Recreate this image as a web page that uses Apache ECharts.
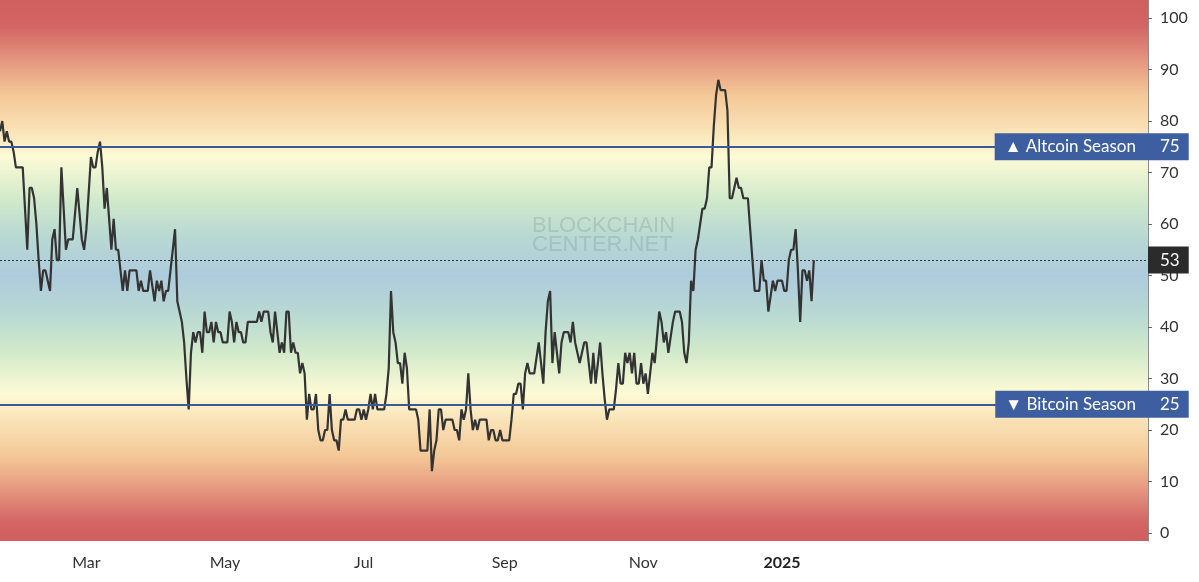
<!DOCTYPE html>
<html>
<head>
<meta charset="utf-8">
<script src="https://cdn.jsdelivr.net/npm/echarts@6/dist/echarts.min.js"></script>
<style>
html,body{margin:0;padding:0;background:#ffffff;}
#chart{width:1199px;height:582px;}
</style>
</head>
<body>
<div id="chart"></div>
<script>
// ---- data ----
const startDate = '2024-01-23';   // first daily reading
const axisEndDate = '2025-06-11'; // right edge of the time scale
const indexValues = [
  78,80,76,78,76,76,74,71,71,71, 71,63,55,67,67,65,60,53,47,51,
  51,49,47,57,59,53,53,71,63,55, 57,57,57,62,67,62,57,55,59,66,
  73,71,71,74,76,71,63,67,61,55, 61,55,55,51,47,51,47,51,51,51,
  51,47,49,47,47,47,51,48,45,49, 47,49,45,47,47,51,55,59,45,43,
  41,37,30,24,35,39,37,39,39,35, 43,39,39,41,37,41,39,39,37,37,
  37,43,41,37,41,39,39,37,37,41, 41,41,41,41,43,41,43,43,43,39,
  37,43,39,35,37,35,43,43,35,37, 35,35,31,33,31,22,27,24,24,27,
  20,18,18,20,20,27,20,18,18,16, 22,22,24,22,22,22,22,24,24,22,
  24,22,24,27,24,27,24,24,24,24, 27,32,47,39,37,33,33,29,35,32,
  24,24,24,24,22,16,16,16,16,24, 12,16,18,24,24,20,22,22,22,22,
  20,20,18,24,22,24,31,24,20,22, 20,22,22,22,22,18,20,20,18,18,
  20,18,18,18,18,22,27,27,29,29, 24,31,33,31,31,31,34,37,33,29,
  39,45,47,33,39,35,31,37,39,39, 39,37,41,37,35,33,35,37,37,33,
  29,35,29,33,37,31,26,22,24,24, 24,28,33,29,29,35,33,35,31,35,
  29,29,33,29,31,27,31,35,33,38, 43,41,37,39,35,38,41,43,43,43,
  41,35,33,37,49,47,55,57,60,63, 63,65,71,71,79,85,88,86,86,86,
  82,65,65,67,69,67,67,65,65,65, 59,53,47,47,47,53,49,49,43,46,
  49,47,49,49,49,47,47,53,55,55, 59,51,41,51,51,49,51,45,53
];
const yTickValues = [0,10,20,30,40,50,60,70,80,90,100];
const altcoinSeasonLevel = 75;
const bitcoinSeasonLevel = 25;
const altcoinSeasonText = '▲ Altcoin Season';
const bitcoinSeasonText = '▼ Bitcoin Season';
const monthNames = {'03':'Mar','05':'May','07':'Jul','09':'Sep','11':'Nov'};
const watermarkText = 'BLOCKCHAIN\nCENTER.NET';

// ---- build daily categories ----
function dayList(from, to){
  const out = [];
  const d = new Date(from + 'T00:00:00Z');
  const end = new Date(to + 'T00:00:00Z');
  while (d <= end){
    out.push(d.toISOString().slice(0,10));
    d.setUTCDate(d.getUTCDate() + 1);
  }
  return out;
}
const dates = dayList(startDate, axisEndDate);
const lastDataDate = dates[indexValues.length - 1];
const currentValue = indexValues[indexValues.length - 1];

const FONT = 'Lato';
const seasonBlue = '#3d5fa2';
const chart = echarts.init(document.getElementById('chart'), null, {renderer:'canvas'});

const gradient = new echarts.graphic.LinearGradient(0,0,0,1,[
  {offset:0.000, color:'#d15f60'},
  {offset:0.050, color:'#d36564'},
  {offset:0.125, color:'#e8a185'},
  {offset:0.176, color:'#f4c897'},
  {offset:0.240, color:'#f9e2b6'},
  {offset:0.290, color:'#fdfad6'},
  {offset:0.366, color:'#d2eacb'},
  {offset:0.435, color:'#b9d9d3'},
  {offset:0.509, color:'#aecbdc'},
  {offset:0.583, color:'#b9d9d3'},
  {offset:0.652, color:'#d2eacb'},
  {offset:0.728, color:'#fdfad6'},
  {offset:0.778, color:'#f9e2b6'},
  {offset:0.842, color:'#f4c897'},
  {offset:0.893, color:'#e8a185'},
  {offset:0.965, color:'#d36564'},
  {offset:1.000, color:'#d15f60'}
]);

function isLabelDay(value){
  if (value > lastDataDate) return false;
  const m = value.slice(5,7), d = value.slice(8,10);
  return d === '01' && (monthNames[m] !== undefined || m === '01');
}

const option = {
  animation:false,
  backgroundColor:'#ffffff',
  textStyle:{fontFamily:FONT},
  title:{
    text: watermarkText,
    left: 527, top: 211,
    textStyle:{fontFamily:'Liberation Sans', fontSize:22, fontWeight:'normal', lineHeight:19, color:'rgba(110,135,125,0.26)'}
  },
  grid:{left:0, right:51, top:0, bottom:41, show:true, backgroundColor:gradient, borderWidth:0, containLabel:false},
  xAxis:{
    type:'category',
    data: dates,
    boundaryGap:false,
    axisLine:{show:false},
    axisTick:{show:false},
    splitLine:{show:false},
    axisLabel:{
      interval:(i, v) => isLabelDay(v),
      hideOverlap:false,
      margin:14,
      fontSize:16,
      color:'#333',
      fontFamily:FONT,
      formatter:(v) => {
        const m = v.slice(5,7);
        if (m === '01') return '{y|' + v.slice(0,4) + '}';
        return monthNames[m];
      },
      rich:{y:{fontSize:16, fontWeight:'bold', color:'#222', fontFamily:FONT}}
    }
  },
  yAxis:{
    type:'value',
    position:'right',
    min:-1.55,
    max:103.5,
    axisLine:{show:true, lineStyle:{color:'#8c8c8c', width:1}},
    splitLine:{show:false},
    axisTick:{show:true, length:4, inside:false, lineStyle:{color:'#666'},
      customValues: yTickValues.concat([altcoinSeasonLevel, bitcoinSeasonLevel])},
    axisLabel:{
      customValues: yTickValues.concat([altcoinSeasonLevel, bitcoinSeasonLevel, currentValue]),
      margin:0,
      align:'left',
      fontFamily:FONT,
      formatter:(v) => {
        if (v === currentValue && yTickValues.indexOf(v) < 0) return '{cur|' + v + '}';
        if (v === altcoinSeasonLevel || v === bitcoinSeasonLevel) return '{sea|' + v + '}';
        return '{n|' + v + '}';
      },
      rich:{
        n:{fontSize:16, color:'#333', padding:[0,0,0,12], fontFamily:FONT},
        sea:{fontSize:17, color:'#fff', backgroundColor:seasonBlue, padding:[5,9,5,12], fontFamily:FONT},
        cur:{fontSize:17, color:'#fff', backgroundColor:'#2b2b2b', padding:[5,9,5,12], fontFamily:FONT}
      }
    }
  },
  series:[{
    type:'line',
    data:indexValues,
    showSymbol:false,
    symbol:'none',
    lineStyle:{color:'#333333', width:2.2},
    z:3,
    markLine:{
      silent:true,
      symbol:'none',
      animation:false,
      data:[
        {yAxis:altcoinSeasonLevel, lineStyle:{color:'#3b5a96', width:2, type:'solid'},
          label:{show:true, position:'insideEnd', distance:0, formatter:altcoinSeasonText,
            color:'#fff', backgroundColor:seasonBlue, padding:[5,12,5,10], fontSize:17, fontFamily:FONT}},
        {yAxis:bitcoinSeasonLevel, lineStyle:{color:'#3b5a96', width:2, type:'solid'},
          label:{show:true, position:'insideEnd', distance:0, formatter:bitcoinSeasonText,
            color:'#fff', backgroundColor:seasonBlue, padding:[5,12,5,10], fontSize:17, fontFamily:FONT}},
        {yAxis:currentValue, lineStyle:{color:'#333', width:1, type:[2,2]}, label:{show:false}}
      ]
    }
  }]
};
chart.setOption(option);
</script>
</body>
</html>
